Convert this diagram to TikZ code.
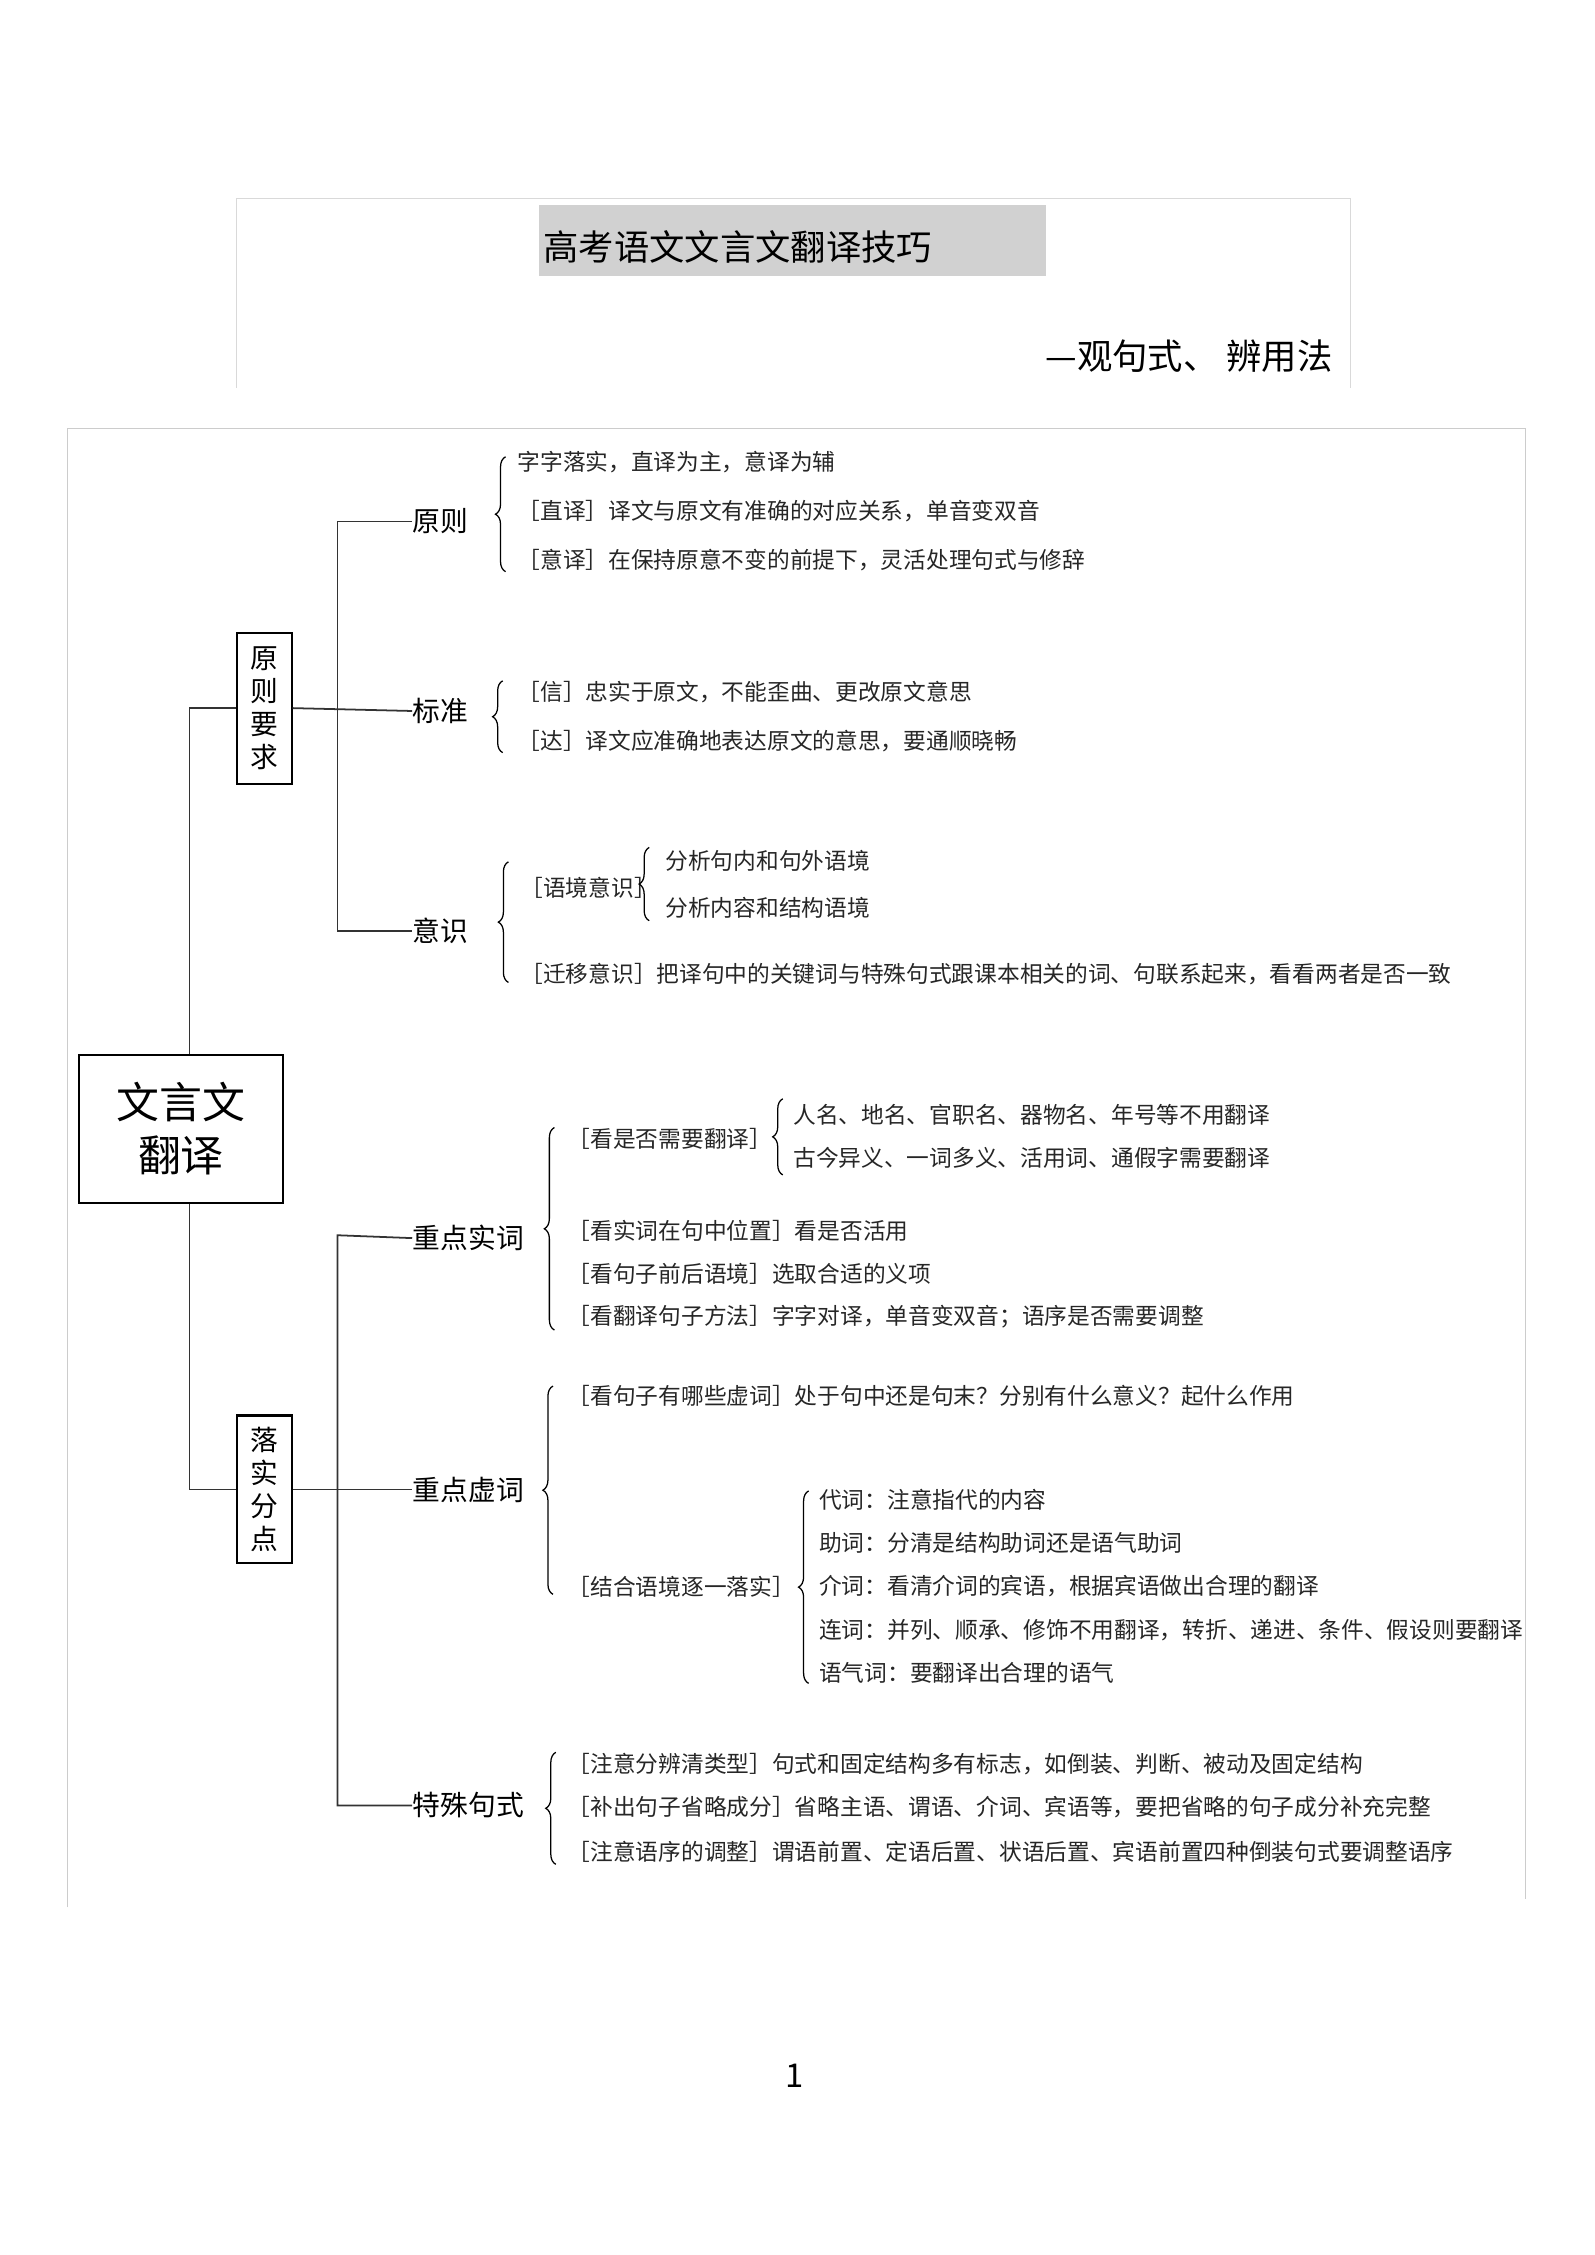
\documentclass[tikz,border=0pt]{standalone}
\usepackage{fontspec}
\setmainfont{Noto Sans CJK SC}
\usetikzlibrary{decorations.pathreplacing}
\begin{document}
\begin{tikzpicture}[x=0.02cm,y=-0.02cm,
  it/.style={anchor=west,inner sep=0pt,font=\fontsize{9pt}{10pt}\selectfont,text=black!85},
  lab/.style={anchor=west,inner sep=0pt,font=\fontsize{11pt}{12pt}\selectfont},
  br/.style={decorate,decoration={brace,amplitude=4pt},line width=0.5pt},
  ln/.style={line width=0.7pt,black!80},
  vbox/.style={draw,line width=0.8pt,align=center,inner sep=2pt,minimum width=38*0.02cm,font=\fontsize{11pt}{13pt}\selectfont}]
\useasboundingbox (0,0) rectangle (1110,1570);
% title frame
\draw[black!15] (165,270) -- (165,138) -- (940,138) -- (940,270);
\fill[black!18] (375,143) rectangle (728,192);
\node[anchor=west,inner sep=0pt,font=\fontsize{14pt}{16pt}\selectfont] (title) at (378,172) {高考语文文言文翻译技巧};
\node[anchor=east,inner sep=0pt,font=\fontsize{14pt}{16pt}\selectfont] (sub) at (928,248) {—观句式、 辨用法};
% big frame
\draw[black!20] (47,1328) -- (47,298) -- (1062,298) -- (1062,1322);
% root
\node[draw,line width=0.8pt,minimum width=142*0.02cm,minimum height=103*0.02cm,align=center,font=\fontsize{17pt}{21pt}\selectfont] (root) at (126,786) {文言文\\翻译};
\node[vbox,minimum height=105*0.02cm] (b1) at (184,493) {原\\则\\要\\求};
\node[vbox,minimum height=103*0.02cm] (b2) at (184,1037) {落\\实\\分\\点};
\coordinate (r1) at (132,493);
\coordinate (r2) at (132,1037);
\draw[ln] (root.north -| r1) -- (r1) -- (b1.west);
\draw[ln] (root.south -| r2) -- (r2) -- (b2.west);
% level 2 labels
\node[lab] (yz) at (287,363) {原则};
\node[lab] (bz) at (287,495) {标准};
\node[lab] (ys) at (287,648) {意识};
\node[lab] (sc) at (287,862) {重点实词};
\node[lab] (xc) at (287,1037) {重点虚词};
\node[lab] (ts) at (287,1257) {特殊句式};
\draw[ln] (b1.east) -- (bz.west);
\draw[ln] (yz.west) -- (235,363) -- (235,648) -- (ys.west);
\draw[ln] (b2.east) -- (xc.west);
\draw[ln] (sc.west) -- (235,860) -- (235,1257) -- (ts.west);
% 原则
\draw[br] (352,398) -- (352,318);
\node[it] at (360,322) {字字落实，直译为主，意译为辅};
\node[it] at (360,356) {［直译］译文与原文有准确的对应关系，单音变双音};
\node[it] at (360,390) {［意译］在保持原意不变的前提下，灵活处理句式与修辞};
% 标准
\draw[br] (350,524) -- (350,474);
\node[it] at (360,482) {［信］忠实于原文，不能歪曲、更改原文意思};
\node[it] at (360,516) {［达］译文应准确地表达原文的意思，要通顺晓畅};
% 意识
\draw[br] (354,684) -- (354,600);
\node[it] (yj) at (362,618) {［语境意识］};
\draw[br] (452,641) -- (452,590);
\node[it] at (463,599) {分析句内和句外语境};
\node[it] at (463,632) {分析内容和结构语境};
\node[it] at (362,678) {［迁移意识］把译句中的关键词与特殊句式跟课本相关的词、句联系起来，看看两者是否一致};
% 重点实词
\draw[br] (386,926) -- (386,785);
\node[it] at (395,793) {［看是否需要翻译］};
\draw[br] (545,818) -- (545,765);
\node[it] at (552,776) {人名、地名、官职名、器物名、年号等不用翻译};
\node[it] at (552,806) {古今异义、一词多义、活用词、通假字需要翻译};
\node[it] at (395,857) {［看实词在句中位置］看是否活用};
\node[it] at (395,887) {［看句子前后语境］选取合适的义项};
\node[it] at (395,917) {［看翻译句子方法］字字对译，单音变双音；语序是否需要调整};
% 重点虚词
\draw[br] (385,1110) -- (385,965);
\node[it] at (395,972) {［看句子有哪些虚词］处于句中还是句末？分别有什么意义？起什么作用};
\node[it] at (395,1105) {［结合语境逐一落实］};
\draw[br] (563,1172) -- (563,1038);
\node[it] at (570,1044) {代词：注意指代的内容};
\node[it] at (570,1074) {助词：分清是结构助词还是语气助词};
\node[it] at (570,1104) {介词：看清介词的宾语，根据宾语做出合理的翻译};
\node[it] at (570,1135) {连词：并列、顺承、修饰不用翻译，转折、递进、条件、假设则要翻译};
\node[it] at (570,1165) {语气词：要翻译出合理的语气};
% 特殊句式
\draw[br] (387,1298) -- (387,1220);
\node[it] at (395,1228) {［注意分辨清类型］句式和固定结构多有标志，如倒装、判断、被动及固定结构};
\node[it] at (395,1258) {［补出句子省略成分］省略主语、谓语、介词、宾语等，要把省略的句子成分补充完整};
\node[it] at (395,1289) {［注意语序的调整］谓语前置、定语后置、状语后置、宾语前置四种倒装句式要调整语序};
\node[font=\fontsize{13pt}{14pt}\selectfont] (pg) at (553,1445) {1};
\end{tikzpicture}
\end{document}
